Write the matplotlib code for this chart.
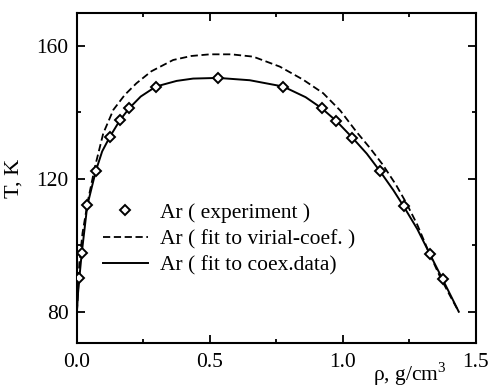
import numpy as np
import matplotlib
matplotlib.use("Agg")
import matplotlib.pyplot as plt
from matplotlib.legend_handler import HandlerLine2D
from matplotlib.ticker import MultipleLocator

plt.rcParams['font.family'] = ['Liberation Serif', 'DejaVu Serif']
plt.rcParams['mathtext.fontset'] = 'custom'
plt.rcParams['mathtext.rm'] = 'Liberation Serif'

# experiment (diamonds)
rho_exp = [0.009, 0.018, 0.039, 0.071, 0.124, 0.162, 0.197, 0.297, 0.531,
           0.776, 0.920, 0.976, 1.036, 1.139, 1.229, 1.327, 1.375]
T_exp = [90.1, 97.6, 112.0, 122.4, 132.7, 137.7, 141.3, 147.8, 150.3,
         147.8, 141.3, 137.4, 132.4, 122.4, 111.7, 97.4, 89.8]

# fit to coexistence data (solid)
rho_coex = [0.0, 0.004, 0.009, 0.018, 0.039, 0.071, 0.095, 0.124, 0.162, 0.197,
            0.24, 0.297, 0.375, 0.437, 0.531, 0.65, 0.776, 0.86, 0.920, 0.976,
            1.036, 1.09, 1.139, 1.19, 1.229, 1.28, 1.327, 1.375, 1.405, 1.436]
T_coex = [80.0, 85.5, 90.1, 97.6, 112.0, 122.4, 128.3, 132.7, 137.7, 141.3,
          144.8, 147.8, 149.5, 150.2, 150.4, 149.7, 147.8, 144.6, 141.3, 137.4,
          132.4, 127.6, 122.4, 116.6, 111.7, 104.9, 97.4, 89.8, 85.0, 80.0]

# fit to virial coefficients (dashed)
rho_vir = [0.0, 0.004, 0.009, 0.021, 0.042, 0.068, 0.099, 0.137, 0.18, 0.224,
           0.28, 0.362, 0.43, 0.5, 0.58, 0.663, 0.763, 0.85, 0.926, 0.99,
           1.051, 1.1, 1.15, 1.2, 1.239, 1.28, 1.32, 1.365, 1.40, 1.436]
T_vir = [80.0, 86.0, 94.6, 103.7, 113.7, 123.7, 133.7, 140.8, 145.3, 148.8,
         152.4, 155.8, 157.0, 157.5, 157.5, 156.8, 153.8, 149.9, 145.8, 140.6,
         134.2, 129.5, 124.3, 118.2, 112.7, 106.2, 98.6, 90.6, 85.3, 80.0]


class RightMarker(HandlerLine2D):
    def get_xdata(self, legend, xdescent, ydescent, width, height, fontsize):
        xd, _ = super().get_xdata(legend, xdescent, ydescent, width, height, fontsize)
        return xd, [-xdescent + width - 3]


fig = plt.figure(figsize=(4.9, 3.88), dpi=100)
ax = fig.add_axes([0.157, 0.116, 0.814, 0.851])

exp_line, = ax.plot(rho_exp, T_exp, linestyle='none', marker='D', markersize=5,
                    markerfacecolor='white', markeredgecolor='black', markeredgewidth=1.4,
                    label='Ar ( experiment )', zorder=3)
ax.plot(rho_vir, T_vir, color='black', linestyle=(0, (4, 2)), linewidth=1.3,
        label='Ar ( fit to virial-coef. )')
ax.plot(rho_coex, T_coex, color='black', linewidth=1.4,
        label='Ar ( fit to coex.data)')

ax.set_xlim(0.0, 1.5)
ax.set_ylim(70.6, 170)
ax.xaxis.set_major_locator(MultipleLocator(0.5))
ax.xaxis.set_minor_locator(MultipleLocator(0.25))
ax.yaxis.set_major_locator(MultipleLocator(40))
ax.yaxis.set_minor_locator(MultipleLocator(20))
ax.set_yticks([80, 120, 160])
ax.tick_params(which='both', direction='in', top=True, right=True, width=1.3)
ax.tick_params(which='major', length=6, labelsize=15.5)
ax.tick_params(which='minor', length=3)
ax.tick_params(axis='x', pad=7)
ax.tick_params(axis='y', pad=6)
for s in ax.spines.values():
    s.set_linewidth(1.5)

ax.set_ylabel('T, K', fontsize=16, labelpad=9)
ax.set_xlabel(r'ρ, g/$\mathrm{cm}^3$', fontsize=15.5)
ax.xaxis.set_label_coords(0.835, -0.052)

ax.legend(loc='upper left', bbox_to_anchor=(0.065, 0.425), frameon=False,
          fontsize=15.5, handlelength=2.1, handletextpad=0.55, labelspacing=0.3,
          borderpad=0, borderaxespad=0,
          handler_map={exp_line: RightMarker(numpoints=1)})

fig.savefig('out.png', dpi=100)
